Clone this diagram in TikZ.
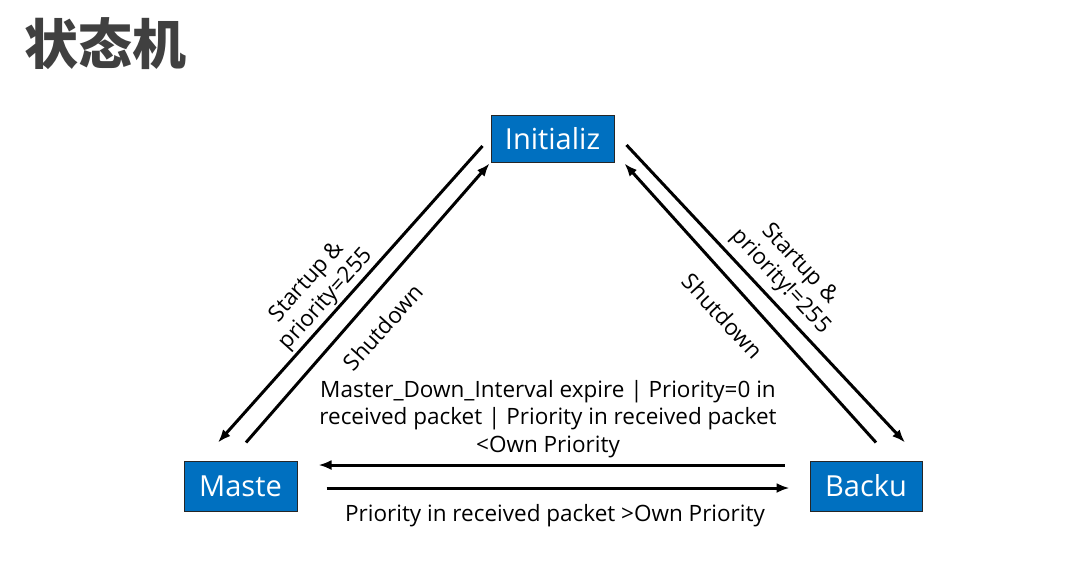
\documentclass[tikz,border=0pt]{standalone}
\usepackage{fontspec}
\setmainfont{Open Sans}
\newfontfamily\cjk{Noto Sans CJK SC}
\usetikzlibrary{arrows.meta,calc}
\definecolor{stateblue}{HTML}{0070C0}
\definecolor{titlegray}{HTML}{404040}
\begin{document}
\begin{tikzpicture}[x=1pt,y=-1pt,
  statebox/.style={draw=black!85, line width=1pt, fill=stateblue, text=white, inner sep=0pt, font=\fontsize{29}{32}\selectfont},
  conn/.style={line width=3pt, -{Latex[length=13pt,width=10pt]}},
  lbl/.style={font=\fontsize{22.5}{26}\selectfont, align=center, inner sep=0pt, text=black}]
\useasboundingbox[fill=white] (0,0) rectangle (1065,560);
\node[font=\cjk\bfseries\fontsize{54}{60}\selectfont, text=titlegray, anchor=center] (title) at (105,44) {状态机};
\node[statebox, minimum width=123pt, minimum height=47pt] (ini) at (552.5,138.5) {Initializ};
\node[statebox, minimum width=113pt, minimum height=50pt] (mas) at (240.5,486) {Maste};
\node[statebox, minimum width=112pt, minimum height=50pt] (bak) at (866,486) {Backu};
% left pair
\draw[conn] ($(ini.west)+(-8,7.5)$) -- ($(mas.north)+(-22.5,-18)$);
\draw[conn] ($(mas.north)+(5.5,-18)$) -- ($(ini.south west)+(-1,1)$);
% right pair
\draw[conn] ($(ini.east)+(12,6.5)$) -- ($(bak.north)+(39,-18)$);
\draw[conn] ($(bak.north)+(10,-18)$) -- ($(ini.south east)+(10,1)$);
% horizontal
\draw[conn] ($(bak.west)+(-25,-21)$) -- ($(mas.east)+(21,-21)$);
\draw[conn] ($(mas.east)+(29,2)$) -- ($(bak.west)+(-20,2)$);
% labels
\node[lbl, rotate=48] (l1) at (317,291) {Startup \&\\priority=255};
\node[lbl, rotate=48] (l2) at (383,327) {Shutdown};
\node[lbl, rotate=-47] (l3) at (790,273) {Startup \&\\priority!=255};
\node[lbl, rotate=-47] (l4) at (723,316) {Shutdown};
\node[lbl, font=\fontsize{22.5}{27.5}\selectfont] (l5) at (548,419) {Master\_Down\_Interval expire | Priority=0 in\\received packet | Priority in received packet\\<Own Priority};
\node[lbl] (l6) at (555,516) {Priority in received packet >Own Priority};
\end{tikzpicture}
\end{document}
